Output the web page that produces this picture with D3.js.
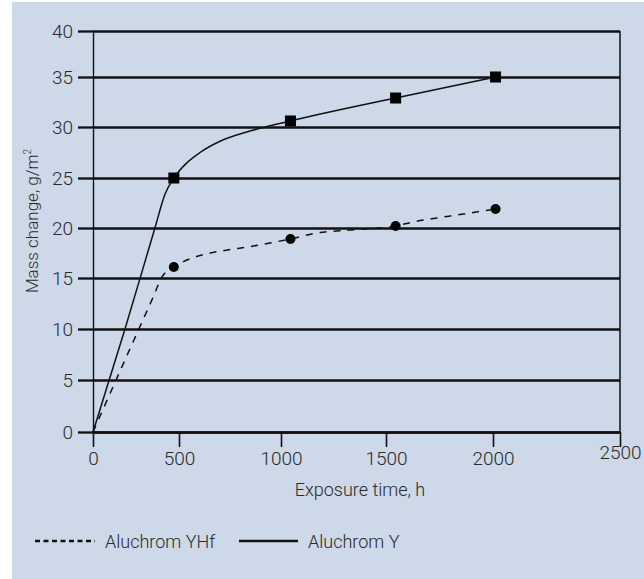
<!DOCTYPE html>
<html>
<head>
<meta charset="utf-8">
<script src="https://cdn.jsdelivr.net/npm/d3@7"></script>
<style>
  body { margin: 0; background: #fff; }
  text { font-family: Roboto, "Liberation Sans", sans-serif; font-weight: 300; fill: #2a2a2a; }
</style>
</head>
<body>
<svg width="644" height="579"></svg>
<script>
// measured points (exposure hours / mass change g/m2)
const hours = [470, 1045, 1545, 2010];
const massY = [25, 30.6, 32.9, 35];
const massYHf = [16.1, 18.9, 20.2, 21.9];

// traced curve points for the fitted lines
const curveHoursY = [0, 186, 360, 419, 470, 539, 603, 701, 848, 1045, 1545, 2010];
const curveMassY = [0, 10, 20, 23.4, 25, 26.5, 27.5, 28.6, 29.6, 30.6, 32.9, 35];
const curveHoursYHf = [0, 200, 349, 401, 436, 470, 539, 632, 738, 835, 946, 1045, 1171, 1329, 1545, 1626, 1738, 1832, 2010];
const curveMassYHf = [0, 7.5, 13.1, 15.1, 15.8, 16.1, 16.8, 17.4, 17.8, 18.1, 18.5, 18.9, 19.5, 19.8, 20.2, 20.6, 21.0, 21.3, 21.9];

const xTicks = [0, 500, 1000, 1500, 2000, 2500];
const yTicks = [0, 5, 10, 15, 20, 25, 30, 35, 40];

const svg = d3.select("svg");

svg.append("rect")
  .attr("x", 12).attr("y", 2)
  .attr("width", 632).attr("height", 577)
  .attr("fill", "#cdd8e8");

// the scanned axes are a bit uneven, so the scales follow the drawn ticks
const x = d3.scaleLinear().domain(xTicks).range([93, 179, 281, 386, 493, 620]);
const y = d3.scaleLinear().domain(yTicks).range([432, 380, 329, 278, 228, 178, 127, 77, 31]);

// horizontal grid
svg.append("g")
  .attr("transform", "translate(93,0)")
  .call(d3.axisLeft(y).tickValues(yTicks).tickSize(-527).tickFormat(""))
  .call(g => g.select(".domain").remove())
  .call(g => g.selectAll(".tick line").attr("stroke", "#111").attr("stroke-width", 2.3));

// right frame
svg.append("line")
  .attr("x1", x(2500)).attr("x2", x(2500))
  .attr("y1", y(40)).attr("y2", y(0))
  .attr("stroke", "#111").attr("stroke-width", 1.5);

// y axis
svg.append("g")
  .attr("transform", "translate(93,0)")
  .call(d3.axisLeft(y).tickValues(yTicks).tickSize(15).tickSizeOuter(0).tickPadding(5))
  .call(g => g.select(".domain").attr("stroke", "#111").attr("stroke-width", 1.4))
  .call(g => g.selectAll(".tick line").attr("stroke", "#111").attr("stroke-width", 2.3))
  .call(g => g.selectAll(".tick text").attr("font-size", 19).style("font-family", "Roboto, sans-serif"));

// x axis
svg.append("g")
  .attr("transform", `translate(0,${y(0)})`)
  .call(d3.axisBottom(x).tickValues(xTicks).tickFormat(d3.format("d")).tickSize(15).tickSizeOuter(0).tickPadding(5))
  .call(g => g.select(".domain").attr("stroke", "#111").attr("stroke-width", 2.3))
  .call(g => g.selectAll(".tick line").attr("stroke", "#111").attr("stroke-width", 1.6))
  .call(g => g.selectAll(".tick text").attr("font-size", 19).style("font-family", "Roboto, sans-serif"))
  .call(g => g.selectAll(".tick").filter(d => d === 2500).select("text").attr("y", 14));

svg.append("text")
  .attr("x", 360).attr("y", 496)
  .attr("text-anchor", "middle")
  .attr("font-size", 18)
  .text("Exposure time, h");

const yTitle = svg.append("text")
  .attr("transform", "translate(38,221) rotate(-90)")
  .attr("text-anchor", "middle")
  .attr("font-size", 17);
yTitle.append("tspan").text("Mass change, g/m");
yTitle.append("tspan").attr("font-size", 10).attr("dy", -7).text("2");

// curves
const line = d3.line()
  .x(d => x(d[0]))
  .y(d => y(d[1]))
  .curve(d3.curveMonotoneX);

svg.append("path")
  .datum(d3.zip(curveHoursY, curveMassY))
  .attr("d", line)
  .attr("fill", "none")
  .attr("stroke", "#111")
  .attr("stroke-width", 1.5);

svg.append("path")
  .datum(d3.zip(curveHoursYHf, curveMassYHf))
  .attr("d", line)
  .attr("fill", "none")
  .attr("stroke", "#111")
  .attr("stroke-width", 1.5)
  .attr("stroke-dasharray", "7,7");

// markers
svg.selectAll(".sq")
  .data(d3.zip(hours, massY))
  .enter()
  .append("rect")
  .attr("class", "sq")
  .attr("x", d => x(d[0]) - 5.5)
  .attr("y", d => y(d[1]) - 5.5)
  .attr("width", 11).attr("height", 11)
  .attr("fill", "#000");

svg.selectAll(".dot")
  .data(d3.zip(hours, massYHf))
  .enter()
  .append("circle")
  .attr("class", "dot")
  .attr("cx", d => x(d[0]))
  .attr("cy", d => y(d[1]))
  .attr("r", 5)
  .attr("fill", "#000");

// legend
const legend = svg.append("g").attr("transform", "translate(0,541)");
legend.append("line")
  .attr("x1", 35).attr("x2", 95)
  .attr("stroke", "#111").attr("stroke-width", 2.5)
  .attr("stroke-dasharray", "5,3.5");
legend.append("text").attr("x", 105).attr("y", 7).attr("font-size", 18).text("Aluchrom YHf");
legend.append("line")
  .attr("x1", 239).attr("x2", 298)
  .attr("stroke", "#111").attr("stroke-width", 2.5);
legend.append("text").attr("x", 308).attr("y", 7).attr("font-size", 18).text("Aluchrom Y");
</script>
</body>
</html>
